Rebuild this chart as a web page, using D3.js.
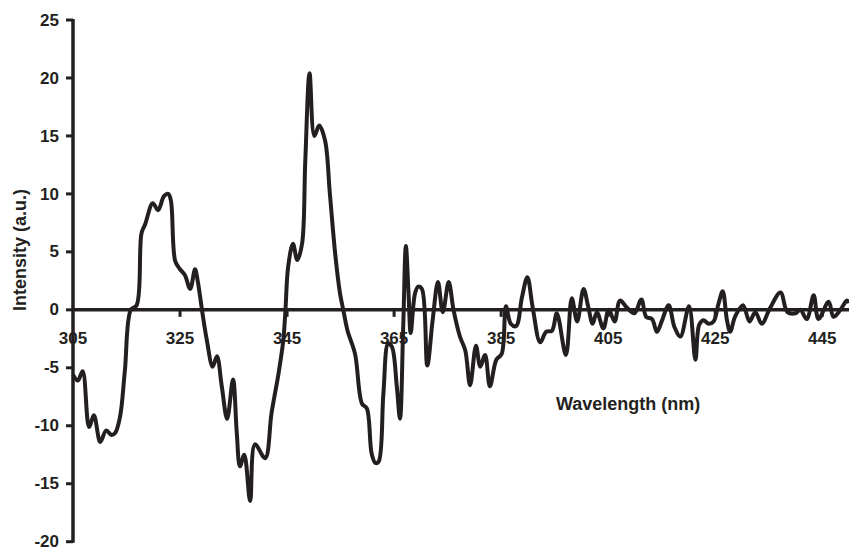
<!DOCTYPE html>
<html>
<head>
<meta charset="utf-8">
<script src="https://cdn.jsdelivr.net/npm/d3@7"></script>
<style>
  body { margin: 0; background: #fff; }
  text { font-family: "Liberation Sans", Arial, sans-serif; font-weight: bold; fill: #231f20; }
</style>
</head>
<body>
<div id="graph"></div>
<script>
// wavelength (nm) and intensity (a.u.)
var wavelength = [305.0, 305.9, 306.8, 308.0, 308.9, 310.1, 311.2, 312.2, 312.9, 313.8, 314.7,
    315.8, 316.9, 317.8, 318.5, 319.9, 320.9, 322.0, 322.8, 323.3, 324.1, 325.0, 325.9, 326.9,
    327.8, 328.3, 329.1, 330.0, 331.1, 331.9, 332.8, 333.8, 334.9, 335.6, 336.2, 337.0, 338.1,
    339.0, 340.9, 342.1, 343.4, 344.3, 344.7, 345.2, 346.1, 346.9, 347.8, 348.4, 349.2, 350.1,
    351.0, 352.1, 353.0, 354.0, 354.9, 355.5, 356.3, 357.7, 359.0, 359.9, 360.8, 361.5, 362.1,
    363.0, 363.9, 364.6, 365.5, 366.1, 366.7, 367.2, 367.7, 368.1, 368.9, 369.5, 370.2, 371.2,
    372.2, 373.2, 374.1, 375.2, 376.1, 377.3, 378.3, 379.2, 380.3, 381.1, 382.0, 382.9, 384.1,
    385.1, 385.9, 386.8, 387.8, 388.9, 389.9, 390.9, 392.3, 393.4, 394.5, 395.4, 397.1, 398.2,
    399.2, 400.4, 401.3, 402.1, 402.9, 404.1, 405.1, 406.2, 407.2, 408.5, 409.9, 411.2, 412.1,
    413.2, 414.1, 415.0, 416.3, 417.4, 418.5, 420.1, 421.3, 422.0, 422.8, 423.8, 424.7, 425.6,
    426.4, 427.2, 427.8, 428.7, 430.2, 431.4, 432.5, 433.7, 435.3, 437.2, 438.5, 440.0, 440.9,
    442.1, 443.4, 444.3, 446.2, 447.1, 448.4, 449.6, 450.0];
var intensity = [-5.6, -6.1, -5.3, -10.1, -9.1, -11.4, -10.4, -10.8, -10.6, -9.2, -5.2,
    0.0, 0.4, 6.6, 7.4, 9.2, 8.6, 9.8, 10.0, 9.4, 4.2, 3.5, 3.0, 1.8,
    3.5, 2.5, 0.0, -2.6, -4.9, -4.0, -6.6, -9.4, -6.0, -10.6, -13.5, -12.5, -16.5,
    -11.6, -12.8, -8.9, -5.5, -2.6, 0.0, 3.7, 5.7, 4.3, 5.7, 12.8, 20.4, 15.0,
    15.9, 14.6, 10.0, 4.8, 1.4, 0.0, -1.8, -3.8, -8.1, -8.5, -12.4, -13.2, -13.1,
    -7.2, -2.9, -3.2, -6.6, -9.4, -1.5, 5.5, 1.4, -2.0, 1.4, 2.0, 1.8, -4.8,
    -0.9, 2.4, -0.2, 2.4, 0.0, -2.3, -3.5, -6.5, -3.1, -4.9, -3.9, -6.6, -4.3,
    -3.8, 0.3, -1.2, -1.4, 1.1, 2.8, 0.2, -2.8, -1.9, -1.8, -0.3, -3.9, 1.0,
    -1.0, 1.8, 0.2, -1.2, -0.2, -1.6, 0.0, -1.0, 0.8, 0.2, -0.3, 0.9, -0.6,
    -0.8, -1.9, -1.0, 0.4, -1.5, -2.3, 0.3, -4.3, -1.3, -0.9, -1.2, -1.0, 0.5,
    1.6, -0.9, -1.9, -0.6, 0.4, -1.0, -0.2, -1.2, 0.2, 1.5, -0.2, -0.3, 0.0,
    -0.8, 1.25, -0.8, 0.7, -0.6, 0.0, 0.8, 0.6];

var xTicks = [305, 325, 345, 365, 385, 405, 425, 445];
var yTicks = [-20, -15, -10, -5, 0, 5, 10, 15, 20, 25];

var data = wavelength.map(function(w, i) { return { w: w, v: intensity[i] }; });

var width = 849;
var height = 548;
var ink = "#231f20";

var x = d3.scaleLinear().domain([305, 450]).range([73, 849]);
var y = d3.scaleLinear().domain([-20, 25]).range([541.7, 20]);

var svg = d3.select('#graph')
    .append('svg')
    .attr('width', width)
    .attr('height', height);

// x tick labels (under the axis lines so the lines cross them)
svg.append("g").selectAll("text")
    .data(xTicks).enter()
    .append("text")
    .attr("x", d => x(d))
    .attr("y", 344)
    .attr("text-anchor", "middle")
    .style("font-size", "17px")
    .text(d => d);

// y tick labels
svg.append("g").selectAll("text")
    .data(yTicks).enter()
    .append("text")
    .attr("x", 59)
    .attr("y", d => y(d))
    .attr("dy", "0.33em")
    .attr("text-anchor", "end")
    .style("font-size", "17px")
    .text(d => d);

// y ticks
svg.append("g").selectAll("line")
    .data(yTicks).enter()
    .append("line")
    .attr("x1", 66).attr("x2", x(305))
    .attr("y1", d => y(d)).attr("y2", d => y(d))
    .attr("stroke", ink).attr("stroke-width", 3);

// x ticks (small marks below the zero line)
svg.append("g").selectAll("line")
    .data(xTicks.slice(1)).enter()
    .append("line")
    .attr("x1", d => x(d)).attr("x2", d => x(d))
    .attr("y1", y(0)).attr("y2", y(0) + 7)
    .attr("stroke", ink).attr("stroke-width", 3);

// axis lines
svg.append("line")
    .attr("x1", x(305)).attr("x2", x(305))
    .attr("y1", y(25) - 1).attr("y2", y(-20) + 1)
    .attr("stroke", ink).attr("stroke-width", 3.5);

svg.append("line")
    .attr("x1", x(305)).attr("x2", width)
    .attr("y1", y(0)).attr("y2", y(0))
    .attr("stroke", ink).attr("stroke-width", 3.5);

// spectrum
var line = d3.line()
    .x(d => x(d.w))
    .y(d => y(d.v))
    .curve(d3.curveCatmullRom.alpha(0.5));

svg.append("path")
    .datum(data)
    .attr("d", line)
    .attr("fill", "none")
    .attr("stroke", ink)
    .attr("stroke-width", 4)
    .attr("stroke-linejoin", "round");

// axis titles
svg.append("text")
    .attr("x", 556)
    .attr("y", 410)
    .style("font-size", "18px")
    .text("Wavelength (nm)");

svg.append("text")
    .attr("transform", "translate(26,250) rotate(-90)")
    .attr("text-anchor", "middle")
    .style("font-size", "18px")
    .text("Intensity (a.u.)");
</script>
</body>
</html>
